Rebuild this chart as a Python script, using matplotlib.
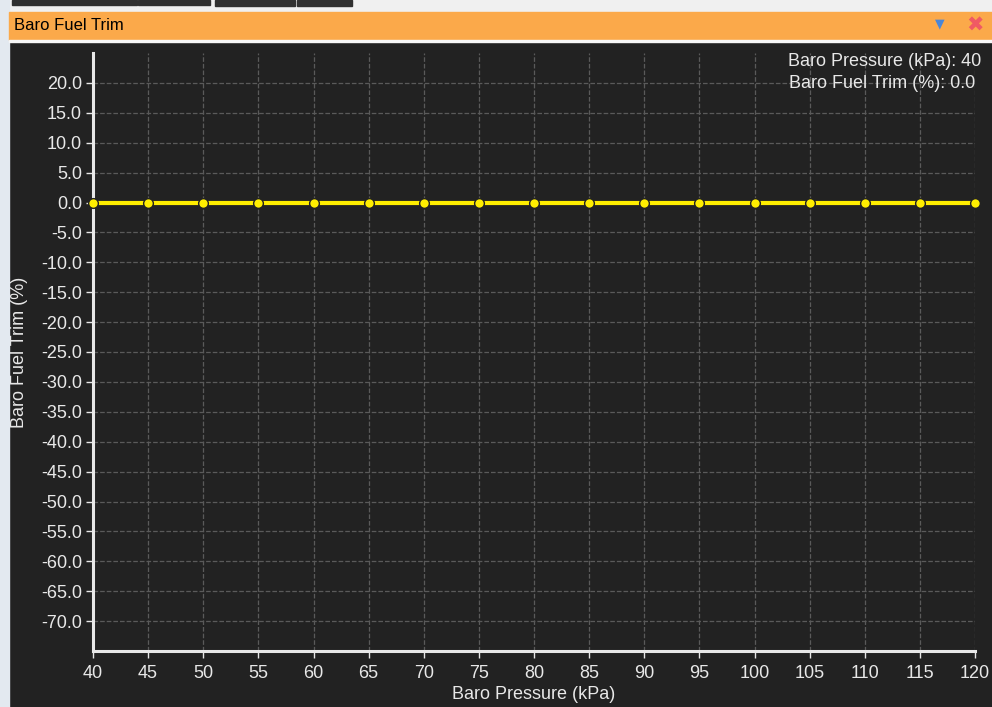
import matplotlib.pyplot as plt
from matplotlib.patches import Rectangle

plt.rcParams['font.family'] = ['Liberation Sans', 'DejaVu Sans']

# table data
pressure = [40, 45, 50, 55, 60, 65, 70, 75, 80, 85, 90, 95, 100, 105, 110, 115, 120]
trim = [0.0] * 17
yticks = [20, 15, 10, 5, 0, -5, -10, -15, -20, -25, -30, -35, -40, -45, -50, -55, -60, -65, -70]

W, H = 992, 707
fig = plt.figure(figsize=(W / 100, H / 100), dpi=100)
fig.patch.set_facecolor('#222222')

def px(x, y, w, h, c):
    # rectangle in pixel coords (top-left origin)
    fig.patches.append(Rectangle((x / W, 1 - (y + h) / H), w / W, h / H,
                                 transform=fig.transFigure, color=c, zorder=0))

# window chrome
px(0, 0, W, 12, '#f0f0f0')
px(12, 0, 125, 5, '#303030')
px(138, 0, 72, 5, '#303030')
px(215, 0, 80, 6, '#303030')
px(297, 0, 55, 6, '#303030')
px(0, 0, 9, H, '#e3e9f0')
px(9, 12, W - 9, 28, '#fba94a')
px(9, 40, W - 9, 2, '#f7f7f7')
fig.text(14 / W, 1 - 26 / H, 'Baro Fuel Trim', fontsize=12, color='black',
         va='center', ha='left')
fig.text(940 / W, 1 - 24 / H, '\u25bc', fontsize=9, color='#4a86d8',
         va='center', ha='center', family='DejaVu Sans')
fig.text(975 / W, 1 - 26 / H, '\u2716', fontsize=15, color='#f05a64',
         va='center', ha='center', family='DejaVu Sans')

ax = fig.add_axes([93 / W, 1 - 651 / H, (975 - 93) / W, (651 - 53) / H])
ax.set_facecolor('#222222')
ax.plot(pressure, trim, color='#ffee00', lw=3, marker='o', ms=7,
        mfc='#ffee00', mec='#222222', mew=1, clip_on=False, zorder=3)

ax.set_xlim(40, 120)
ax.set_ylim(-75, 25)
ax.set_xticks(pressure)
ax.set_yticks(yticks)
ax.set_yticklabels(['%.1f' % v for v in yticks])
ax.grid(True, color='#5a5a5a', ls='--', lw=0.9)
for s in ['top', 'right']:
    ax.spines[s].set_visible(False)
for s in ['left', 'bottom']:
    ax.spines[s].set_color('#e8e8e8')
    ax.spines[s].set_linewidth(2.2)
ax.tick_params(colors='#e8e8e8', labelsize=13, length=5, width=1, pad=3)
ax.tick_params(axis='x', pad=5)
ax.set_xlabel('Baro Pressure (kPa)', color='#e8e8e8', fontsize=13, labelpad=3)
ax.set_ylabel('Baro Fuel Trim (%)', color='#e8e8e8', fontsize=13, labelpad=9)

fig.text(981 / W, 1 - 62 / H, 'Baro Pressure (kPa): 40', color='#e8e8e8',
         fontsize=13, ha='right', va='center')
fig.text(975 / W, 1 - 84 / H, 'Baro Fuel Trim (%): 0.0', color='#e8e8e8',
         fontsize=13, ha='right', va='center')

fig.savefig('out.png', dpi=100, facecolor=fig.get_facecolor())
